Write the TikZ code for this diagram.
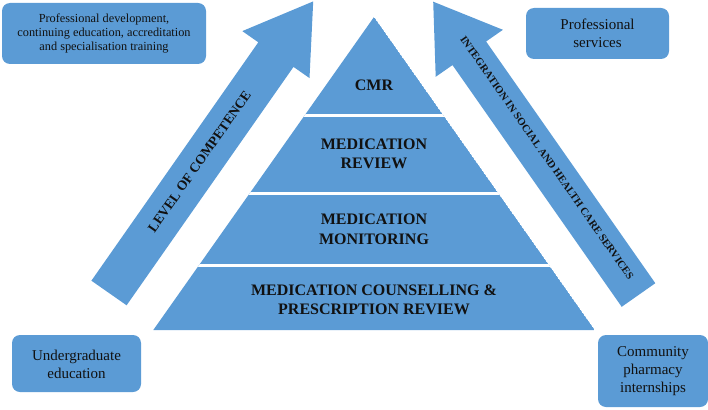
\documentclass[tikz,border=0pt]{standalone}
\usepackage{fontspec}
\setmainfont{Liberation Serif}
\definecolor{pblue}{HTML}{5B9BD5}
\definecolor{ptext}{HTML}{111111}
\begin{document}
\begin{tikzpicture}[x=1pt,y=-1pt,
  box/.style={fill=pblue, rounded corners=8pt, draw=none},
  boxtext/.style={align=center, text=ptext, inner sep=0pt},
  bandtext/.style={align=center, text=ptext, inner sep=0pt, font=\fontsize{16}{19.5}\selectfont\bfseries},
  arrowshape/.style={fill=pblue, draw=none},
  sep/.style={draw=white, line width=3pt}]
\useasboundingbox (0,0) rectangle (708,409);

% corner boxes
\fill[box] (2,3) rectangle (206,64);
\node[boxtext, font=\fontsize{12.3}{14}\selectfont] (pd) at (104,33.5) {Professional development,\\continuing education, accreditation\\and specialisation training};
\fill[box] (526,8) rectangle (669,59);
\node[boxtext, font=\fontsize{15}{18}\selectfont] (ps) at (597.5,33.5) {Professional\\services};
\fill[box] (12,335) rectangle (141,392);
\node[boxtext, font=\fontsize{15}{18}\selectfont] (ug) at (76.5,364) {Undergraduate\\education};
\fill[box] (598,335) rectangle (708,407);
\node[boxtext, font=\fontsize{15}{18}\selectfont] (cp) at (653,371) {Community\\pharmacy\\internships};

% left arrow
\fill[arrowshape] (91.4,280.7) -- (258.3,42.3) -- (242.3,31.1) -- (313.2,1.4) -- (309.5,78.1) -- (293.5,66.9) -- (126.6,305.3) -- cycle;
\node[text=ptext, font=\fontsize{13.6}{15}\selectfont\bfseries, rotate=55, inner sep=0pt] (lc) at (199.5,161.5) {LEVEL OF COMPETENCE};

% right arrow
\fill[arrowshape] (655.3,283.2) -- (486.1,41.5) -- (502.9,29.8) -- (433.2,1.7) -- (435.7,76.8) -- (452.5,65.1) -- (621.7,306.8) -- cycle;
\node[text=ptext, font=\fontsize{10.6}{12}\selectfont\bfseries, rotate=-55, inner sep=0pt] (is) at (547,158) {INTEGRATION IN SOCIAL AND HEALTH CARE SERVICES};

% pyramid
\begin{scope}
\clip (374,17) -- (594.7,330) -- (153.3,330) -- cycle;
\fill[pblue] (374,17) -- (594.7,330) -- (153.3,330) -- cycle;
\draw[sep] (150,115) -- (600,115);
\draw[sep] (150,193) -- (600,193);
\draw[sep] (150,265) -- (600,265);
\end{scope}
\node[bandtext] (cmr) at (374,85) {CMR};
\node[bandtext] (mr) at (374,154) {MEDICATION\\REVIEW};
\node[bandtext] (mm) at (374,229.5) {MEDICATION\\MONITORING};
\node[bandtext] (mc) at (374,300) {MEDICATION COUNSELLING \&\\PRESCRIPTION REVIEW};
\end{tikzpicture}
\end{document}
